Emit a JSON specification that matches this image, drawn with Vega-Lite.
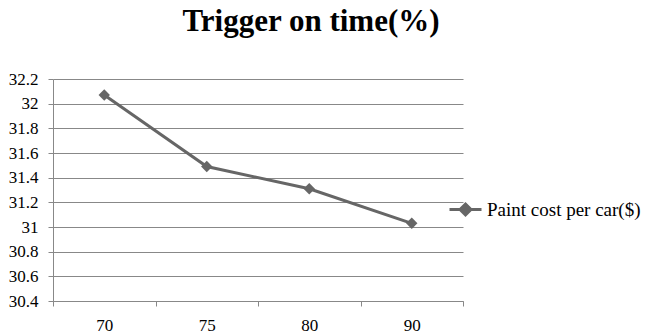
{
  "$schema": "https://vega.github.io/schema/vega-lite/v6.json",
  "autosize": "none",
  "width": 410,
  "height": 222,
  "padding": {"left": 53, "top": 79, "right": 190, "bottom": 33},
  "background": "white",
  "config": {
    "view": {"stroke": null},
    "font": "Liberation Serif",
    "style": {"guide-label": {"font": "Liberation Serif", "fontSize": 17, "fill": "#000000"}},
    "axis": {"labelFont": "Liberation Serif", "labelFontSize": 17, "labelColor": "#000000"}
  },
  "title": {
    "text": "Trigger on time(%)",
    "font": "Liberation Serif",
    "fontSize": 31,
    "fontWeight": "bold",
    "color": "#000000",
    "anchor": "middle",
    "frame": "group",
    "dx": 53,
    "offset": 32
  },
  "data": {
    "values": [
      {"trigger": "70", "cost": 32.07, "series": "Paint cost per car($)"},
      {"trigger": "75", "cost": 31.49, "series": "Paint cost per car($)"},
      {"trigger": "80", "cost": 31.31, "series": "Paint cost per car($)"},
      {"trigger": "90", "cost": 31.03, "series": "Paint cost per car($)"}
    ]
  },
  "mark": {
    "type": "line",
    "strokeWidth": 3,
    "point": {"shape": "diamond", "size": 130, "filled": true, "color": "#666666", "opacity": 1}
  },
  "encoding": {
    "x": {
      "field": "trigger",
      "type": "ordinal",
      "sort": null,
      "scale": {"paddingInner": 0, "paddingOuter": 0},
      "axis": {
        "title": null,
        "labelAngle": 0,
        "tickBand": "extent",
        "domainColor": "#888888",
        "tickColor": "#888888",
        "tickSize": 5,
        "labelFont": "Liberation Serif",
        "labelFontSize": 17,
        "labelColor": "#000000",
        "labelPadding": 11,
        "grid": false,
        "encode": {"labels": {"update": {"font": {"value": "Liberation Serif"}, "fontSize": {"value": 17}}}}
      }
    },
    "y": {
      "field": "cost",
      "type": "quantitative",
      "scale": {"domain": [30.4, 32.2], "nice": false, "zero": false},
      "axis": {
        "title": null,
        "values": [30.4, 30.6, 30.8, 31, 31.2, 31.4, 31.6, 31.8, 32, 32.2],
        "format": "~g",
        "grid": true,
        "gridColor": "#888888",
        "gridWidth": 1,
        "domainColor": "#888888",
        "tickColor": "#888888",
        "tickSize": 5,
        "labelFont": "Liberation Serif",
        "labelFontSize": 17,
        "labelColor": "#000000",
        "labelPadding": 10,
        "encode": {"labels": {"update": {"font": {"value": "Liberation Serif"}, "fontSize": {"value": 17}}}}
      }
    },
    "color": {
      "field": "series",
      "type": "nominal",
      "scale": {"range": ["#666666"]},
      "legend": {
        "title": null,
        "orient": "none",
        "legendX": 395,
        "legendY": 113,
        "padding": 0,
        "symbolType": "M-1,0L1,0M0,-0.34L0.34,0L0,0.34L-0.34,0Z",
        "symbolSize": 1024,
        "symbolStrokeWidth": 3,
        "symbolFillColor": "#666666",
        "symbolStrokeColor": "#666666",
        "labelOffset": 4,
        "labelLimit": 400,
        "labelFont": "Liberation Serif",
        "labelFontSize": 19,
        "labelColor": "#000000"
      }
    }
  }
}
